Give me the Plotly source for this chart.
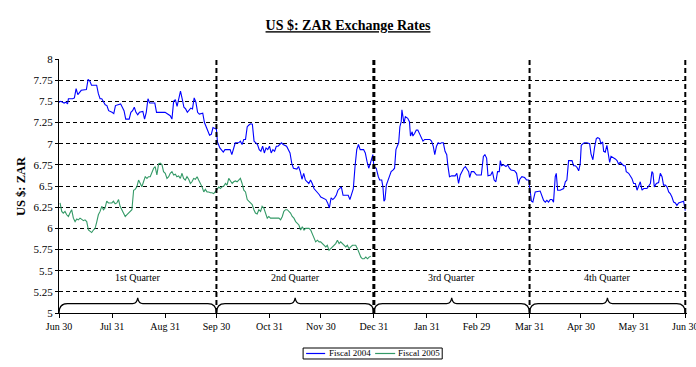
import plotly.graph_objects as go

# ---------------- data ----------------
# x = days since Jun 30 (fiscal-year day), values = US$:ZAR rate
fy2004_days = [
    0, 1, 3, 4, 5, 5.5, 8, 9, 10, 11, 13, 16, 17, 18, 19, 22, 23, 24, 25, 27,
    28, 29, 31, 32, 33, 35, 36, 38, 39, 41, 42, 43, 44, 45, 46, 47, 49, 50, 51, 52,
    53, 56, 57, 59, 62, 65, 66, 67, 68, 69, 71, 72, 73, 74, 75, 77, 78, 79, 80, 81,
    82, 84, 85, 87, 88, 89, 90, 92,
    92.6, 94, 96, 97, 100, 101, 102, 103, 105, 106, 107, 108, 109, 110, 111, 112, 113, 114, 116, 117,
    118, 119, 120, 121, 122, 123, 124, 125, 126, 127, 128, 130, 131, 133, 135, 136, 137, 139, 140, 141,
    142, 143, 144, 145, 146, 147, 148, 149, 150, 151, 152, 153, 154, 156, 157, 158, 159, 160, 161, 162,
    163, 164, 165, 166, 168, 169, 170, 171, 172, 173, 174, 175, 176, 178, 179, 180, 181, 182, 183, 183.4,
    184,
    185.4, 186.6, 187.4, 188.6, 189.3, 189.9, 190.5, 191.3, 192.5, 193.3,
    194.1, 195.3, 196.1, 196.9, 197.7, 198.5, 199.2, 200.0, 200.4, 201.0,
    201.6, 202.4, 203.8, 204.8, 205.4, 206.4, 206.8, 207.8, 208.8, 209.7,
    210.7, 211.7, 212.7, 213.7, 216.7, 217.7, 218.7, 219.6, 220.6, 221.6,
    222.6, 223.6, 224.6, 225.6, 226.6, 227.2, 228.2, 229.5, 231.5, 232.5,
    233.5, 234.5, 235.5, 236.5, 237.5, 238.5, 239.4, 240.0, 241.0, 242.4,
    244.0, 246.8, 248.0, 248.9, 249.9, 250.7, 252.3, 253.3, 254.3, 255.3,
    256.3, 257.3, 257.9, 258.6, 259.8, 261.2, 262.2, 263.2, 264.2, 266.2,
    267.4, 268.5, 269.3, 270.5, 272.1, 273.3, 274.5, 275.3, 276.1,
    276.9, 277.7, 278.3, 281.2, 282.2, 283.2, 284.2, 285.1, 286.1, 287.1,
    288.1, 289.0, 290.0, 290.6, 291.4, 292.9, 294.9, 295.9, 296.8, 297.8,
    298.8, 299.8, 300.7, 301.7, 302.7, 303.7, 304.6, 305.2, 306.2, 307.0,
    308.5, 310.1, 310.9, 312.0, 313.0, 314.0, 314.8, 315.9, 316.7, 317.7,
    318.3, 319.2, 320.2, 321.2, 321.8, 322.6, 323.7, 325.1, 326.1, 327.0,
    328.0, 329.0, 330.0, 330.9, 331.5, 332.9, 333.9, 334.8, 335.8, 336.8,
    337.8, 338.7, 339.7, 340.7, 341.7, 343.6, 345.6, 346.5, 347.1, 347.9,
    349.1, 350.4, 351.4, 352.4, 353.3, 354.3, 355.3, 356.3, 357.2, 358.2,
    359.2, 360.2, 361.1, 362.1, 364.1, 365.0, 366.0,
]
fy2004_vals = [
    7.49, 7.50, 7.48, 7.49, 7.47, 7.53, 7.53, 7.54, 7.65, 7.58, 7.63, 7.64, 7.76, 7.74, 7.69, 7.69, 7.59, 7.53, 7.53, 7.46,
    7.45, 7.39, 7.37, 7.355, 7.45, 7.46, 7.47, 7.39, 7.29, 7.29, 7.37, 7.39, 7.43, 7.37, 7.34, 7.37, 7.38, 7.29, 7.37, 7.53,
    7.48, 7.48, 7.37, 7.37, 7.37, 7.33, 7.29, 7.50, 7.52, 7.44, 7.62, 7.53, 7.43, 7.41, 7.37, 7.42, 7.41, 7.54, 7.49, 7.37,
    7.35, 7.36, 7.25, 7.15, 7.10, 7.11, 7.19, 7.17,
    7.02, 6.95, 6.90, 6.93, 6.93, 6.87, 6.95, 7.01, 7.01, 7.03, 6.99, 7.05, 7.05, 7.20, 7.22, 7.235, 7.23, 7.03, 6.99, 6.93,
    6.91, 6.97, 6.89, 6.95, 6.93, 6.97, 6.89, 6.93, 6.91, 6.97, 6.97, 7.01, 6.99, 6.97, 6.89, 6.77, 6.71, 6.70, 6.73, 6.67,
    6.58, 6.65, 6.57, 6.55, 6.53, 6.57, 6.53, 6.47, 6.45, 6.43, 6.40, 6.37, 6.36, 6.34, 6.30, 6.24, 6.36, 6.34, 6.36, 6.39,
    6.45, 6.47, 6.49, 6.39, 6.39, 6.39, 6.34, 6.41, 6.47, 6.73, 6.93, 6.99, 6.93, 6.93, 6.89, 6.79, 6.71, 6.77, 6.85, 6.87,
    6.73,
    6.71, 6.61, 6.57, 6.57, 6.49, 6.32, 6.34, 6.51, 6.59, 6.63,
    6.67, 6.69, 6.71, 6.93, 6.97, 7.01, 7.20, 7.26, 7.40, 7.32,
    7.24, 7.32, 7.30, 7.26, 7.09, 7.14, 7.09, 7.12, 7.16, 7.16,
    7.12, 7.07, 7.03, 7.05, 7.05, 7.03, 6.97, 6.87, 6.97, 7.01,
    7.00, 7.01, 7.01, 6.91, 6.87, 6.75, 6.61, 6.62, 6.62, 6.65,
    6.53, 6.63, 6.67, 6.71, 6.73, 6.69, 6.67, 6.60, 6.67, 6.67,
    6.63, 6.63, 6.85, 6.87, 6.83, 6.62, 6.63, 6.67, 6.57, 6.55,
    6.67, 6.67, 6.80, 6.74, 6.75, 6.73, 6.75, 6.71, 6.69, 6.68,
    6.65, 6.52, 6.58, 6.61, 6.60, 6.57, 6.57, 6.45, 6.32,
    6.31, 6.37, 6.43, 6.44, 6.39, 6.33, 6.31, 6.33, 6.31, 6.34,
    6.34, 6.31, 6.61, 6.65, 6.45, 6.45, 6.47, 6.55, 6.57, 6.80,
    6.80, 6.80, 6.74, 6.74, 6.72, 6.68, 6.76, 6.98, 7.00, 7.01,
    7.01, 7.00, 6.88, 6.81, 6.96, 7.06, 7.07, 7.06, 7.00, 7.02,
    6.91, 6.90, 6.98, 6.86, 6.78, 6.85, 6.84, 6.82, 6.80, 6.76,
    6.78, 6.76, 6.74, 6.74, 6.67, 6.65, 6.61, 6.59, 6.53, 6.53,
    6.45, 6.51, 6.55, 6.45, 6.47, 6.47, 6.53, 6.67, 6.65, 6.49,
    6.53, 6.54, 6.65, 6.61, 6.51, 6.51, 6.49, 6.43, 6.41, 6.37,
    6.31, 6.30, 6.27, 6.30, 6.31, 6.32, 6.21,
]

fy2005_days = [
    0.6, 1.6, 2.5, 3.5, 4.5, 5.5, 6.4, 7.4, 8.4, 9.4,
    10.4, 11.3, 12.3, 13.3, 14.3, 15.2, 16.2, 17.2, 18.2, 19.1,
    20.1, 21.1, 22.1, 23.0, 24.0, 25.0, 26.0, 26.9, 27.9, 28.9,
    29.9, 30.9, 31.8, 32.8, 33.8, 34.8, 35.7, 36.7, 37.7, 38.7,
    39.6, 40.6, 41.6, 42.6, 43.6, 44.5, 45.5, 46.5, 47.5, 48.4,
    49.4, 50.4, 51.4, 52.3, 53.3, 54.3, 55.3, 56.2, 57.2, 58.2,
    59.2, 60.2, 61.1, 62.1, 63.1, 64.1, 65.0, 66.0, 67.0, 68.0,
    68.9, 69.9, 70.9, 71.9, 72.8, 73.8, 74.8, 75.8, 76.8, 77.7,
    78.7, 79.7, 80.7, 81.6, 82.6, 83.6, 84.6, 85.5, 86.5, 87.5,
    88.5, 89.4, 90.4, 91.4, 92.4, 93.4, 94.3, 95.3, 96.3, 97.3,
    98.2, 99.2, 100.2, 101.2, 102.1, 103.1, 104.1, 105.1, 106.0, 107.0,
    108.0, 109.0, 110.0, 110.9, 111.9, 112.9, 113.9, 114.8, 115.8, 116.8,
    117.8, 118.7, 119.7, 120.7, 121.7, 122.6, 123.6, 124.6, 125.6, 126.6,
    127.5, 128.5, 129.5, 130.5, 131.4, 132.4, 133.4, 134.4, 135.3, 136.3,
    137.3, 138.3, 139.2, 140.2, 141.2, 142.2, 143.2, 144.1, 145.1, 146.1,
    147.1, 148.0, 149.0, 150.0, 151.0, 152.0, 152.9, 153.9, 154.9, 155.9,
    156.8, 157.8, 158.8, 159.8, 160.7, 161.7, 162.7, 163.7, 164.6, 165.6,
    166.6, 167.6, 168.5, 169.5, 170.5, 171.5, 172.4, 173.4, 174.4, 175.4,
    176.4, 177.3, 178.3, 179.3, 180.3, 181.2, 182.2,
]
fy2005_vals = [
    6.30, 6.20, 6.18, 6.20, 6.16, 6.14, 6.18, 6.22, 6.12, 6.08,
    6.11, 6.10, 6.12, 6.10, 6.09, 6.10, 6.08, 5.98, 5.96, 5.95,
    5.98, 6.00, 6.08, 6.16, 6.20, 6.26, 6.22, 6.24, 6.32, 6.30,
    6.30, 6.30, 6.32, 6.29, 6.30, 6.34, 6.26, 6.22, 6.18, 6.14,
    6.16, 6.18, 6.20, 6.22, 6.45, 6.46, 6.49, 6.57, 6.53, 6.49,
    6.55, 6.61, 6.59, 6.61, 6.61, 6.67, 6.71, 6.73, 6.63, 6.76,
    6.77, 6.75, 6.67, 6.65, 6.59, 6.61, 6.65, 6.67, 6.63, 6.64,
    6.61, 6.62, 6.59, 6.65, 6.59, 6.57, 6.61, 6.58, 6.53, 6.55,
    6.59, 6.58, 6.61, 6.57, 6.53, 6.49, 6.43, 6.46, 6.43, 6.43,
    6.42, 6.42, 6.41, 6.43, 6.46, 6.49, 6.47, 6.49, 6.50, 6.53,
    6.51, 6.59, 6.56, 6.53, 6.55, 6.56, 6.55, 6.57, 6.59, 6.53,
    6.45, 6.43, 6.34, 6.32, 6.30, 6.28, 6.22, 6.18, 6.17, 6.22,
    6.20, 6.26, 6.24, 6.18, 6.12, 6.14, 6.12, 6.12, 6.12, 6.12,
    6.12, 6.12, 6.10, 6.14, 6.20, 6.22, 6.22, 6.20, 6.18, 6.14,
    6.12, 6.08, 6.06, 6.04, 5.98, 6.02, 5.98, 6.00, 6.00, 6.00,
    5.98, 5.94, 5.88, 5.84, 5.86, 5.84, 5.84, 5.82, 5.80, 5.78,
    5.80, 5.74, 5.76, 5.78, 5.80, 5.82, 5.86, 5.82, 5.84, 5.82,
    5.80, 5.78, 5.80, 5.76, 5.78, 5.80, 5.80, 5.80, 5.76, 5.70,
    5.66, 5.64, 5.64, 5.66, 5.64, 5.66, 5.67,
]

tick_days = [0, 31, 62, 92, 123, 153, 184, 215, 244, 275, 305, 336, 366]
tick_labels = ["Jun 30", "Jul 31", "Aug 31", "Sep 30", "Oct 31", "Nov 30", "Dec 31",
               "Jan 31", "Feb 29", "Mar 31", "Apr 30", "May 31", "Jun 30"]
quarter_bounds = [0, 92, 184, 275, 366]
quarter_names = ["1st Quarter", "2nd Quarter", "3rd Quarter", "4th Quarter"]
series_names = ["Fiscal 2004", "Fiscal 2005"]
series_colors = ["#0000FF", "#339966"]

assert len(fy2004_days) == len(fy2004_vals)
assert len(fy2005_days) == len(fy2005_vals)

FONT = "Liberation Serif, Times New Roman, serif"

fig = go.Figure()
fig.add_trace(go.Scatter(x=fy2004_days, y=fy2004_vals, mode="lines", name=series_names[0],
                         line=dict(color=series_colors[0], width=1.1), showlegend=False))
fig.add_trace(go.Scatter(x=fy2005_days, y=fy2005_vals, mode="lines", name=series_names[1],
                         line=dict(color=series_colors[1], width=1.1), showlegend=False))

# quarter separators
for b in quarter_bounds[1:]:
    fig.add_shape(type="line", xref="x", yref="y", x0=b, x1=b, y0=5, y1=8, layer="above",
                  line=dict(color="black", width=3 if b == 184 else 2, dash="5px,3px"))

# braces and quarter labels
y0, yf, yp = 5.0, 5.11, 5.18
for a, b, name in zip(quarter_bounds[:-1], quarter_bounds[1:], quarter_names):
    m = (a + b) / 2
    path = (f"M {a},{y0} Q {a},{yf} {a+5},{yf} L {m-3},{yf} Q {m-0.5},{yf} {m},{yp} "
            f"Q {m+0.5},{yf} {m+3},{yf} L {b-5},{yf} Q {b},{yf} {b},{y0}")
    fig.add_shape(type="path", xref="x", yref="y", path=path,
                  line=dict(color="black", width=1.2))
    fig.add_annotation(x=m, y=5.42, xref="x", yref="y", text=name, showarrow=False,
                       font=dict(family=FONT, size=10, color="black"))

fig.add_annotation(x=-0.0605, y=0.5, xref="paper", yref="paper", xanchor="center", yanchor="middle",
                   text="<b>US $: ZAR</b>", textangle=-90, showarrow=False,
                   font=dict(family=FONT, size=12.5, color="black"))

# legend box (drawn manually to match the compact boxed legend)
leg_y0, leg_y1, leg_ym = -0.1811, -0.1378, -0.1594
fig.add_shape(type="rect", xref="paper", yref="paper", x0=0.3887, x1=0.6102, y0=leg_y0, y1=leg_y1,
              line=dict(color="black", width=1), fillcolor="white")
leg_line_x = [(0.3935, 0.4238), (0.5034, 0.5353)]
leg_text_x = [0.4270, 0.5369]
for (lx0, lx1), tx, nm, col in zip(leg_line_x, leg_text_x, series_names, series_colors):
    fig.add_shape(type="line", xref="paper", yref="paper", x0=lx0, x1=lx1, y0=leg_ym, y1=leg_ym,
                  line=dict(color=col, width=1.2))
    fig.add_annotation(x=tx, y=leg_ym, xref="paper", yref="paper", xanchor="left", yanchor="middle",
                       text=nm, showarrow=False, font=dict(family=FONT, size=9, color="black"))

fig.update_xaxes(range=[0, 367], tickmode="array", tickvals=tick_days, ticktext=tick_labels,
                 showgrid=False, zeroline=False, showline=True, linecolor="black", linewidth=1,
                 ticks="outside", ticklen=4, tickcolor="black", ticklabeloverflow="allow",
                 tickfont=dict(family=FONT, size=10, color="black"))
fig.update_yaxes(range=[5, 8], dtick=0.25, tick0=5, showgrid=True, gridcolor="black", gridwidth=1,
                 griddash="4px,3px", zeroline=False, showline=True, linecolor="black", linewidth=1,
                 ticks="outside", ticklen=3, tickcolor="black",
                 tickfont=dict(family=FONT, size=11, color="black"))

fig.update_layout(
    width=696, height=367,
    margin=dict(l=59, r=9, t=59, b=54, autoexpand=False),
    paper_bgcolor="white", plot_bgcolor="white",
    font=dict(family=FONT, color="black"),
    title=dict(text="<b><u>US $: ZAR Exchange Rates</u></b>", x=0.5, xref="container", xanchor="center",
               y=1 - 25.3 / 367, yref="container", yanchor="middle",
               font=dict(family=FONT, size=14, color="black")),
    showlegend=False,
)

# remove the page's default body margin so the 696x367 figure fills the window exactly
page_fix = ("document.documentElement.style.margin='0';document.documentElement.style.overflow='hidden';"
            "document.body.style.margin='0';document.body.style.overflow='hidden';")

fig.write_html("out.html", post_script=page_fix, config={"displayModeBar": False})
